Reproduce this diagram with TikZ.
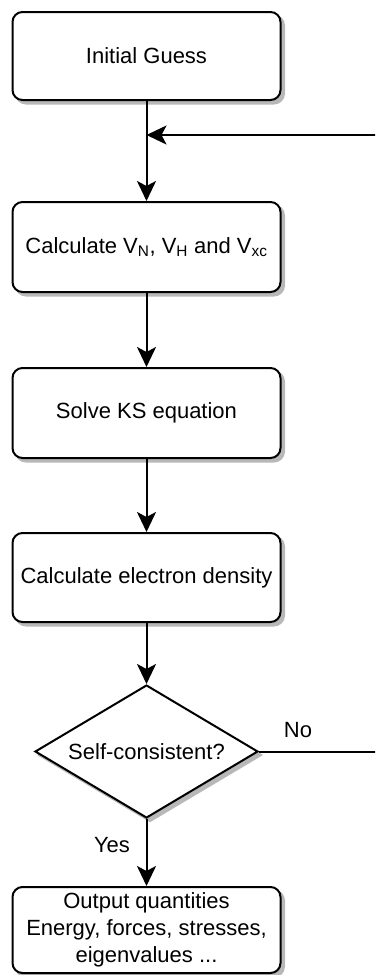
\documentclass[tikz,border=0pt]{standalone}
\usepackage{fontspec}
\setmainfont{Liberation Sans}
\usetikzlibrary{shapes.geometric,arrows.meta}
\begin{document}
\begin{tikzpicture}[x=1pt,y=-1pt,
  txt/.style={font=\fontsize{22}{27}\selectfont},
  shd/.style={preaction={draw=black!28, fill=black!28, line width=2pt, transform canvas={xshift=3.5pt, yshift=-3.5pt}}},
  box/.style={txt, shd, draw, line width=2pt, rounded corners=10pt, fill=white,
    minimum width=268pt, minimum height=89pt, inner sep=2pt, align=center},
  dec/.style={txt, shd, diamond, draw, line width=2pt, fill=white,
    minimum width=223pt, minimum height=133pt, inner sep=0pt, shape aspect=1.68},
  conn/.style={line width=2pt, -{Stealth[length=20pt 0 0,width=19pt 0 0,inset=5pt 0]}},
  lbl/.style={txt, inner sep=0pt}
]
\useasboundingbox (0,0) rectangle (375,975);
\clip (0,0) rectangle (375,975);

\node[box, minimum height=88pt] (b1) at (146.5,56) {Initial Guess};
\node[box, minimum height=90pt] (b2) at (146.5,247) {Calculate V\textsubscript{N}, V\textsubscript{H} and V\textsubscript{xc}};
\node[box, minimum height=90pt] (b3) at (146.5,413) {Solve KS equation};
\node[box] (b4) at (146.5,577.5) {Calculate electron density};
\node[dec] (dec) at (146.5,751.5) {Self-consistent?};
\node[box, minimum height=86pt] (b5) at (146.5,930) {Output quantities\\Energy, forces, stresses,\\eigenvalues ...};

\coordinate (join) at (146.5,135);
\coordinate (fr) at (392,751.5);
\coordinate (fu) at (392,135);

\draw[conn] (b1) -- (b2);
\draw[conn] (b2) -- (b3);
\draw[conn] (b3) -- (b4);
\draw[conn] (b4) -- (dec);
\draw[conn] (dec) -- (b5);
\draw[conn] (dec.east) -- (fr) -- (fu) -- (join);

\node[lbl] (no) at (298,730) {No};
\node[lbl] (yes) at (112,845) {Yes};
\end{tikzpicture}
\end{document}
